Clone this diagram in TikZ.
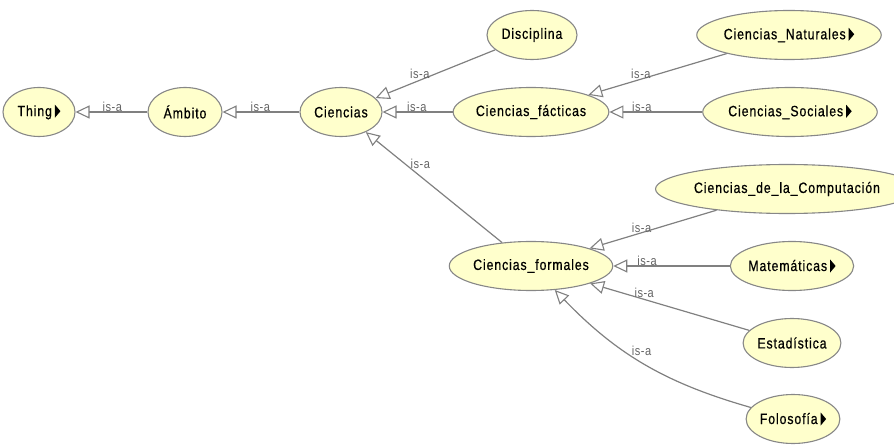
\documentclass[tikz,border=0pt]{standalone}
\usepackage{fontspec}
\setmainfont{Liberation Sans}
\newfontfamily\classfont[FakeStretch=0.82, LetterSpace=6, FakeBold=0.6]{Liberation Sans}
\newfontfamily\relfont[FakeStretch=0.85, LetterSpace=4]{Liberation Sans}
\usetikzlibrary{shapes.geometric,arrows.meta}

\definecolor{clsfill}{RGB}{255,255,204}
\definecolor{clsborder}{RGB}{135,135,135}
\definecolor{edgegray}{RGB}{128,128,128}
\definecolor{labelgray}{RGB}{100,100,100}

% small black marker shown after classes that have hidden subclasses
\newcommand{\moremark}{\hspace{3pt}\tikz[baseline=0pt]{\fill[black] (0pt,-1.5pt) -- (0pt,11.5pt) -- (5.5pt,5pt) -- cycle;}}

\tikzset{
  cls/.style={ellipse, draw=clsborder, line width=1.1pt, fill=clsfill,
    minimum height=49pt, inner sep=0pt,
    font=\classfont\fontsize{15}{17}\selectfont},
  isa/.style={draw=edgegray, line width=1.2pt,
    -{Triangle[open, length=14pt, width=13pt, line width=1.1pt]}},
  isalabel/.style={text=labelgray, inner sep=0pt, anchor=base,
    font=\relfont\fontsize{13}{14}\selectfont}
}

\begin{document}
\begin{tikzpicture}[x=1pt,y=1pt]
  \useasboundingbox (0,0) rectangle (894,445);

  % classes
  \node[cls, minimum width=72pt]  (thing)       at (39,333)  {Thing\moremark};
  \node[cls, minimum width=74pt]  (ambito)      at (185,333) {Ámbito};
  \node[cls, minimum width=82pt]  (ciencias)    at (341,333) {Ciencias};
  \node[cls, minimum width=90pt]  (disciplina)  at (532,410) {Disciplina};
  \node[cls, minimum width=143pt] (facticas)    at (531,333) {Ciencias\_fácticas};
  \node[cls, minimum width=148pt] (naturales)   at (789,410) {Ciencias\_Naturales\moremark};
  \node[cls, minimum width=146pt] (sociales)    at (790,333) {Ciencias\_Sociales\moremark};
  \node[cls, minimum width=145pt] (formales)    at (531,179) {Ciencias\_formales};
  \node[cls, minimum width=212pt] (computacion) at (787,256) {Ciencias\_de\_la\_Computación};
  \node[cls, minimum width=111pt] (matematicas) at (792,179) {Matemáticas\moremark};
  \node[cls, minimum width=95pt]  (estadistica) at (792,102) {Estadística};
  \node[cls, minimum width=87pt]  (folosofia)   at (793,26)  {Folosofía\moremark};

  % subclass relations, arrow pointing at the superclass
  \draw[isa] (ambito)      -- node[isalabel, pos=0.49] {is-a} (thing);
  \draw[isa] (ciencias)    -- node[isalabel, pos=0.51] {is-a} (ambito);
  \draw[isa] (disciplina)  -- node[isalabel, pos=0.63, yshift=2pt] {is-a} (ciencias);
  \draw[isa] (facticas)    -- node[isalabel, pos=0.51] {is-a} (ciencias);
  \draw[isa] (formales)    -- node[isalabel, pos=0.60, yshift=8pt] {is-a} (ciencias);
  \draw[isa] (naturales)   -- node[isalabel, pos=0.62, yshift=1pt] {is-a} (facticas);
  \draw[isa] (sociales)    -- node[isalabel, pos=0.65] {is-a} (facticas);
  \draw[isa] (computacion) -- node[isalabel, pos=0.59] {is-a} (formales);
  \draw[isa] (matematicas) -- node[isalabel, pos=0.71] {is-a} (formales);
  \draw[isa] (estadistica) -- node[isalabel, pos=0.66, yshift=2pt] {is-a} (formales);
  \draw[isa] (folosofia) to[bend left=15]
        node[isalabel, pos=0.57, anchor=base west] {is-a} (formales);
\end{tikzpicture}
\end{document}
